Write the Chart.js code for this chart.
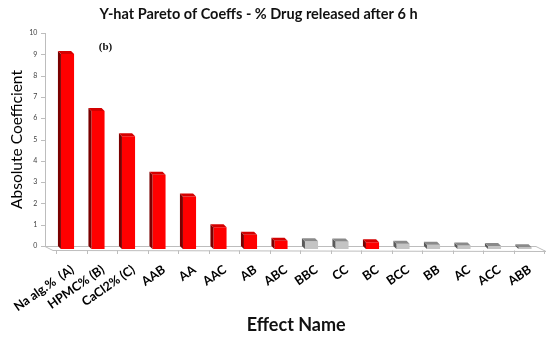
<!DOCTYPE html>
<html>
<head>
<meta charset="utf-8">
<script src="https://cdn.jsdelivr.net/npm/chart.js@4.4.0/dist/chart.umd.min.js"></script>
<style>
  body { margin: 0; background: #fff; }
  canvas { display: block; }
</style>
</head>
<body>
<canvas id="pareto" width="550" height="339"></canvas>
<script>
// effects and their absolute coefficients
const effects = ['Na alg.%  (A)', 'HPMC% (B)', 'CaCl2% (C)', 'AAB', 'AA', 'AAC', 'AB', 'ABC',
                 'BBC', 'CC', 'BC', 'BCC', 'BB', 'AC', 'ACC', 'ABB'];
const coeffs = [9.15, 6.48, 5.29, 3.49, 2.47, 1.02, 0.67, 0.39,
                0.36, 0.35, 0.32, 0.25, 0.20, 0.17, 0.14, 0.08];
// which effects are drawn red (significant) and which grey
const significant = [true, true, true, true, true, true, true, true,
                     false, false, true, false, false, false, false, false];
const yTicks = [0, 1, 2, 3, 4, 5, 6, 7, 8, 9, 10];

const D = 3; // depth of the fake 3d

const fronts = significant.map(s => s ? '#ff0000' : '#c4c4c4');
const sides = significant.map(s => s ? '#7a0000' : '#5a5a5a');
const tops = significant.map(s => s ? '#d40000' : '#8a8a8a');

const bar3d = {
    id: 'bar3d',
    beforeDatasetsDraw(chart) {
        const ctx = chart.ctx;
        const ys = chart.scales.y;
        const y0 = ys.getPixelForValue(0);
        const y10 = ys.getPixelForValue(10);
        const wallX = 45;
        ctx.save();
        ctx.strokeStyle = '#bdbdbd';
        ctx.lineWidth = 1;
        // value axis on the wall
        ctx.beginPath();
        ctx.moveTo(wallX + 0.5, y10);
        ctx.lineTo(wallX + 0.5, y0);
        yTicks.forEach(v => {
            const p = Math.round(ys.getPixelForValue(v)) + 0.5;
            ctx.moveTo(wallX - 4, p);
            ctx.lineTo(wallX + 0.5, p);
        });
        // floor
        ctx.moveTo(wallX, y0 + 0.5);
        ctx.lineTo(536, y0 + 0.5);
        ctx.lineTo(546, y0 + 5.5);
        ctx.lineTo(53, y0 + 4.5);
        ctx.lineTo(wallX, y0 + 0.5);
        // category ticks on the floor front
        const xs = chart.scales.x;
        for (let k = 0; k <= effects.length; k++) {
            const px = Math.round(xs.left + k * (xs.width / effects.length) + 3.75) + 0.5;
            ctx.moveTo(px, y0 + 4.5);
            ctx.lineTo(px, y0 + 8);
        }
        ctx.stroke();
        ctx.restore();

        ctx.save();
        ctx.translate(0, D);
    },
    afterDatasetsDraw(chart) {
        const ctx = chart.ctx;
        ctx.restore();
        ctx.save();
        chart.getDatasetMeta(0).data.forEach((bar, i) => {
            const L = bar.x - bar.width / 2;
            const R = bar.x + bar.width / 2;
            const top = bar.y;
            const base = bar.base;
            // left side
            ctx.fillStyle = sides[i];
            ctx.beginPath();
            ctx.moveTo(L, top + D);
            ctx.lineTo(L - D, top);
            ctx.lineTo(L - D, base);
            ctx.lineTo(L, base + D);
            ctx.closePath();
            ctx.fill();
            // top face
            ctx.fillStyle = tops[i];
            ctx.beginPath();
            ctx.moveTo(L, top + D);
            ctx.lineTo(R, top + D);
            ctx.lineTo(R - D, top);
            ctx.lineTo(L - D, top);
            ctx.closePath();
            ctx.fill();
        });
        ctx.restore();
    },
    afterDraw(chart) {
        const ctx = chart.ctx;
        ctx.save();
        ctx.fillStyle = '#111';
        ctx.textAlign = 'center';
        ctx.textBaseline = 'middle';
        ctx.font = 'bold 14.5px Lato';
        ctx.fillText('Y-hat Pareto of Coeffs - % Drug released after 6 h', 258.5, 14);
        ctx.font = 'bold 11px "Liberation Serif"';
        ctx.fillText('(b)', 105.5, 47);
        ctx.restore();
    }
};

new Chart(document.getElementById('pareto'), {
    type: 'bar',
    data: {
        labels: effects,
        datasets: [{
            data: coeffs,
            backgroundColor: fronts,
            borderWidth: 0,
            categoryPercentage: 1.0,
            barPercentage: 0.43
        }]
    },
    options: {
        responsive: false,
        animation: false,
        layout: { padding: { top: 33, right: 9.75, left: 0, bottom: 0 } },
        plugins: {
            legend: { display: false },
            title: { display: false },
            tooltip: { enabled: false }
        },
        scales: {
            x: {
                grid: { display: false },
                border: { display: false },
                ticks: {
                    autoSkip: false,
                    maxRotation: 35,
                    minRotation: 35,
                    padding: 8,
                    labelOffset: 5,
                    color: '#000',
                    font: { family: 'Lato', size: 12.5, weight: 'bold' }
                },
                title: {
                    display: true,
                    text: 'Effect Name',
                    color: '#111',
                    font: { family: 'Lato', size: 18, weight: 'bold' },
                    padding: { top: 0, bottom: 3 }
                },
                afterFit(scale) { scale.height = 93; }
            },
            y: {
                min: 0,
                max: 10,
                grid: { display: false, drawTicks: false },
                border: { display: false },
                afterBuildTicks(scale) { scale.ticks = yTicks.map(v => ({ value: v })); },
                ticks: {
                    padding: 15,
                    color: '#404040',
                    font: { family: 'Lato', size: 7 }
                },
                title: {
                    display: true,
                    text: 'Absolute Coefficient',
                    color: '#000',
                    font: { family: 'Lato', size: 15.5 },
                    padding: { top: 8, bottom: 0 }
                },
                afterFit(scale) { scale.width = 52.25; }
            }
        }
    },
    plugins: [bar3d]
});
</script>
</body>
</html>
